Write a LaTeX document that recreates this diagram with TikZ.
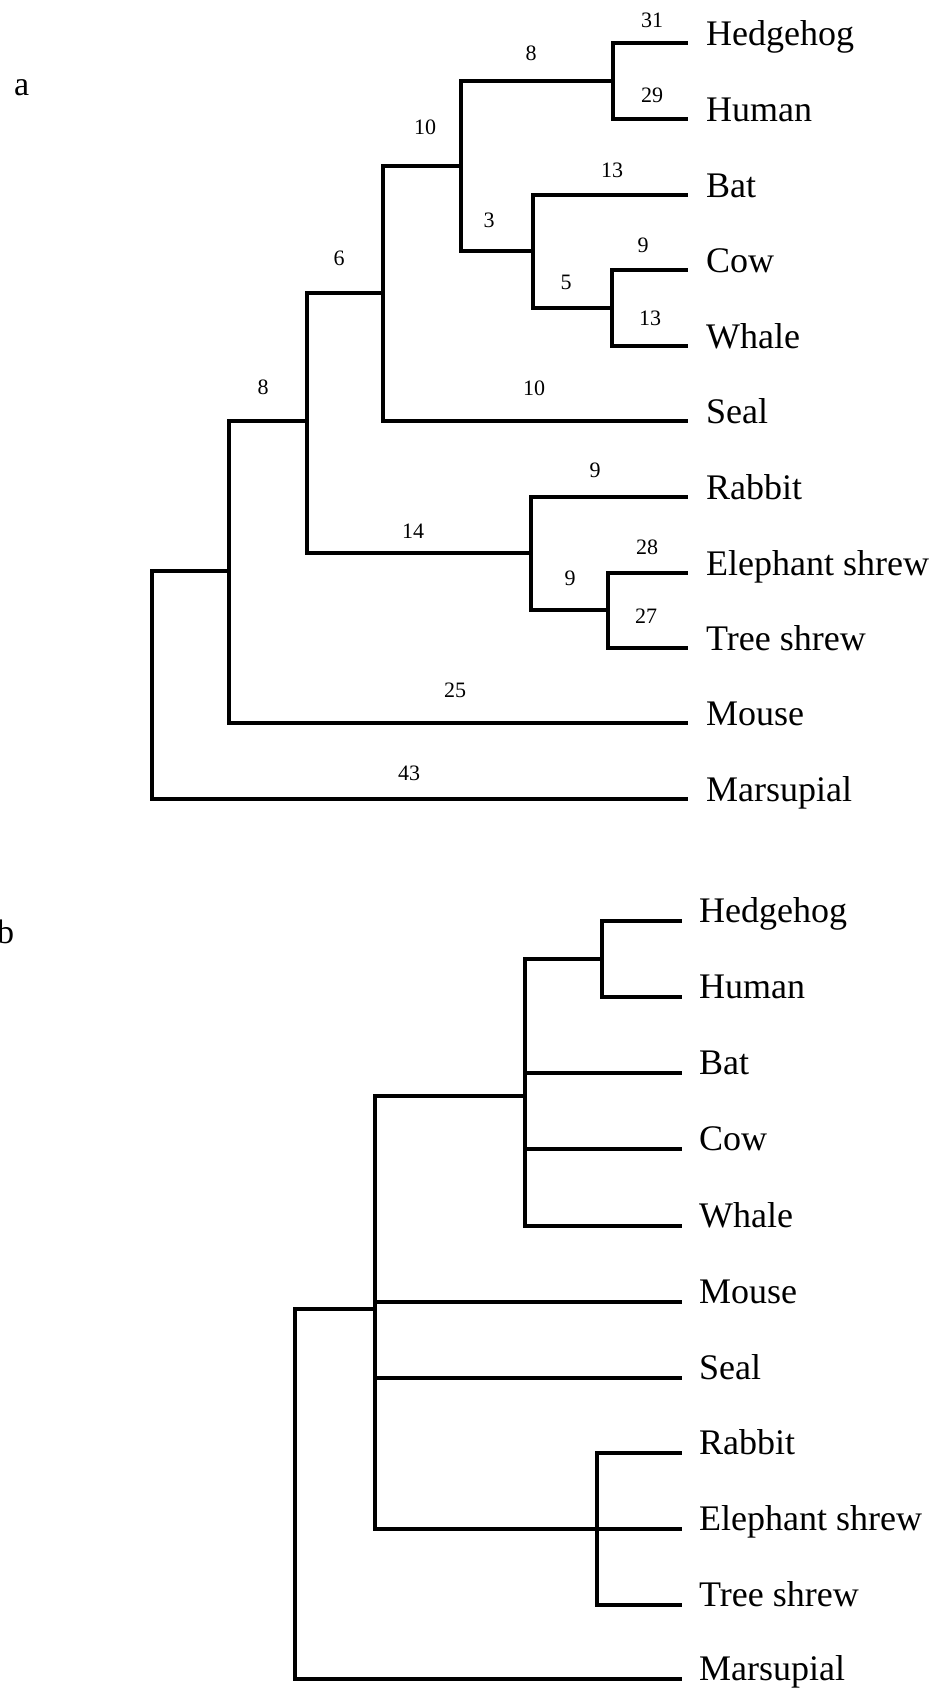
\documentclass[tikz,border=0pt]{standalone}
\usepackage{fontspec}
\setmainfont{Liberation Serif}
\begin{document}
\begin{tikzpicture}[x=1pt,y=-1pt,
  br/.style={line width=4pt,line cap=rect,line join=miter},
  leaf/.style={anchor=base west,inner sep=0pt,font=\fontsize{36}{36}\selectfont},
  num/.style={inner sep=0pt,font=\fontsize{22}{22}\selectfont},
  plab/.style={anchor=base west,inner sep=0pt,font=\fontsize{34}{34}\selectfont}]
\useasboundingbox (0,0) rectangle (931,1690);
% ---------- panel a ----------
\node[plab] (la) at (14,95) {a};
\foreach \n/\y/\t in {hh/43/Hedgehog,hu/119/Human,bat/195/Bat,cow/270/Cow,wh/346/Whale,se/421/Seal,ra/497/Rabbit,el/573/Elephant shrew,tr/648/Tree shrew,mo/723/Mouse,ma/799/Marsupial}{
  \coordinate (ea\n) at (686,\y);
  \node[leaf] (ta\n) at (706,\y+2) {\t};
}
\coordinate (Ahh) at (613,81);
\coordinate (Acw) at (612,308);
\coordinate (Abcw) at (533,251);
\coordinate (Atop) at (461,166);
\coordinate (Aseal) at (383,293);
\coordinate (Aet) at (608,610);
\coordinate (Ar) at (531,553);
\coordinate (A3) at (307,421);
\coordinate (A4) at (229,571);
\coordinate (Aroot) at (152,685);
\draw[br] (Ahh) |- (eahh);
\draw[br] (Ahh) |- (eahu);
\draw[br] (Acw) |- (eacow);
\draw[br] (Acw) |- (eawh);
\draw[br] (Abcw) |- (eabat);
\draw[br] (Abcw) |- (Acw);
\draw[br] (Atop) |- (Ahh);
\draw[br] (Atop) |- (Abcw);
\draw[br] (Aseal) |- (Atop);
\draw[br] (Aseal) |- (ease);
\draw[br] (Aet) |- (eael);
\draw[br] (Aet) |- (eatr);
\draw[br] (Ar) |- (eara);
\draw[br] (Ar) |- (Aet);
\draw[br] (A3) |- (Aseal);
\draw[br] (A3) |- (Ar);
\draw[br] (A4) |- (A3);
\draw[br] (A4) |- (eamo);
\draw[br] (Aroot) |- (A4);
\draw[br] (Aroot) |- (eama);
% branch lengths
\node[num] (n31) at (652,20) {31};
\node[num] (n29) at (652,95) {29};
\node[num] (n8a) at (531,53) {8};
\node[num] (n10a) at (425,127) {10};
\node[num] (n13a) at (612,170) {13};
\node[num] (n3) at (489,220) {3};
\node[num] (n9a) at (643,245) {9};
\node[num] (n5) at (566,282) {5};
\node[num] (n13b) at (650,318) {13};
\node[num] (n6) at (339,258) {6};
\node[num] (n8b) at (263,387) {8};
\node[num] (n10b) at (534,388) {10};
\node[num] (n9b) at (595,470) {9};
\node[num] (n14) at (413,531) {14};
\node[num] (n28) at (647,547) {28};
\node[num] (n9c) at (570,578) {9};
\node[num] (n27) at (646,616) {27};
\node[num] (n25) at (455,690) {25};
\node[num] (n43) at (409,773) {43};
% ---------- panel b ----------
\node[plab] (lb) at (-3,943) {b};
\foreach \n/\y/\t in {hh/921/Hedgehog,hu/997/Human,bat/1073/Bat,cow/1149/Cow,wh/1226/Whale,mo/1302/Mouse,se/1378/Seal,ra/1453/Rabbit,el/1529/Elephant shrew,tr/1605/Tree shrew,ma/1679/Marsupial}{
  \coordinate (eb\n) at (680,\y);
  \node[leaf] (tb\n) at (699,\y+1) {\t};
}
\coordinate (Bhh) at (602,959);
\coordinate (Bpoly) at (525,1096);
\coordinate (Br) at (597,1529);
\coordinate (Bmid) at (375,1309);
\coordinate (Broot) at (295,1494);
\draw[br] (Bhh) |- (ebhh);
\draw[br] (Bhh) |- (ebhu);
\draw[br] (Bpoly) |- (Bhh);
\draw[br] (Bpoly) |- (ebbat);
\draw[br] (Bpoly) |- (ebcow);
\draw[br] (Bpoly) |- (ebwh);
\draw[br] (Br) |- (ebra);
\draw[br] (Br) |- (ebtr);
\draw[br] (Bmid) |- (Bpoly);
\draw[br] (Bmid) |- (ebmo);
\draw[br] (Bmid) |- (ebse);
\draw[br] (Bmid) |- (ebel);
\draw[br] (Broot) |- (Bmid);
\draw[br] (Broot) |- (ebma);
\end{tikzpicture}
\end{document}
